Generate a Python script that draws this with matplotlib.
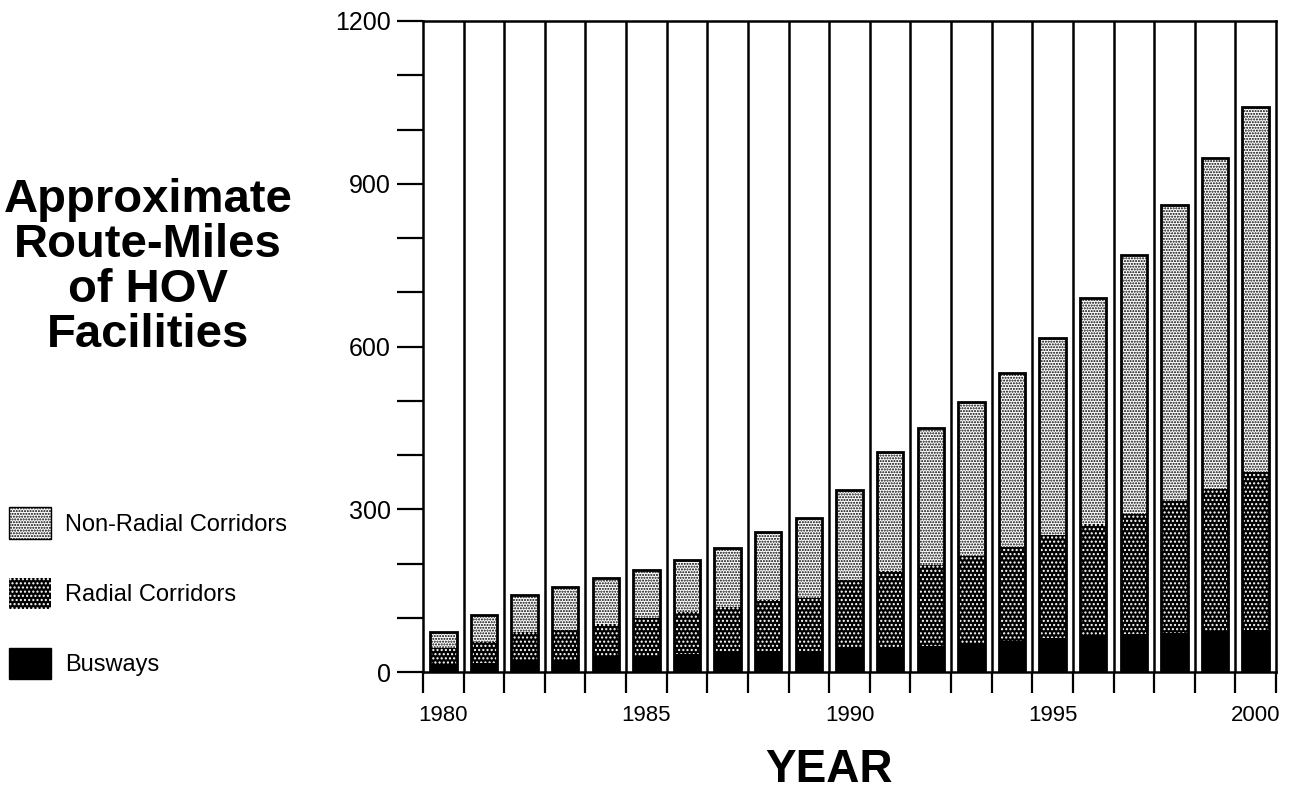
import matplotlib
matplotlib.use("Agg")
import matplotlib.pyplot as plt
import numpy as np
from matplotlib.patches import Patch

plt.rcParams['font.family'] = ['Liberation Sans', 'DejaVu Sans']
plt.rcParams['hatch.linewidth'] = 1.0

# route-miles
years = list(range(1980, 2001))
busways = [15, 17, 22, 23, 27, 29, 34, 36, 38, 38, 47, 47, 48, 53, 57, 62, 68, 70, 72, 74, 78]
radial_top = [44, 55, 73, 78, 88, 99, 110, 120, 132, 136, 169, 186, 197, 213, 230, 252, 272, 292, 315, 338, 368]
total = [74, 105, 142, 156, 173, 188, 206, 228, 258, 283, 335, 405, 449, 497, 551, 615, 690, 769, 860, 948, 1041]

busways = np.array(busways)
radial = np.array(radial_top) - busways
non_radial = np.array(total) - np.array(radial_top)
x = np.array(years)

light_hatch = '......'
dark_hatch = '....'

fig = plt.figure(figsize=(12.93, 8), dpi=100)
ax = fig.add_axes([423/1293, 1 - 672/800, (1276 - 423)/1293, (672 - 21)/800])

w = 0.65
ax.bar(x, busways, w, color='black', linewidth=0, zorder=3)
ax.bar(x, radial, w, bottom=busways, facecolor='black', edgecolor='white',
       hatch=dark_hatch, linewidth=0, zorder=3)
ax.bar(x, non_radial, w, bottom=busways + radial, facecolor='white', edgecolor='black',
       hatch=light_hatch, linewidth=0, zorder=3)
# outline round each stack
ax.bar(x, total, w, facecolor='none', edgecolor='black', linewidth=2, zorder=4)

# separators between years
for b in np.arange(1980.5, 2000.5, 1):
    ax.axvline(b, color='black', linewidth=1.8, zorder=2)

ax.set_xlim(1979.5, 2000.5)
ax.set_ylim(0, 1200)
for s in ax.spines.values():
    s.set_linewidth(1.8)

ax.set_yticks(range(0, 1201, 300))
ax.set_yticks(range(0, 1201, 100), minor=True)
ax.tick_params(axis='y', which='both', direction='out', length=19, width=1.6,
               labelsize=18, pad=4)

ax.set_xticks(range(1980, 2001, 5))
ax.set_xticks(np.arange(1979.5, 2001, 1), minor=True)
ax.tick_params(axis='x', which='major', length=0, labelsize=16, pad=24)
ax.tick_params(axis='x', which='minor', direction='out', length=15, width=1.6)

fig.text(0.1145, 0.666, "Approximate\nRoute-Miles\nof HOV\nFacilities", ha='center', va='center',
         fontsize=34, fontweight='bold', linespacing=1.03)
fig.text(829/1293, 1 - 770/800, "YEAR", ha='center', va='center', fontsize=33, fontweight='bold')

handles = [
    Patch(facecolor='white', edgecolor='black', hatch=light_hatch, linewidth=1),
    Patch(facecolor='black', edgecolor='white', hatch=dark_hatch, linewidth=0),
    Patch(facecolor='black', edgecolor='black', linewidth=1),
]
labels = ["Non-Radial Corridors", "Radial Corridors", "Busways"]
fig.legend(handles, labels, loc='upper left', bbox_to_anchor=(0.0, 1 - 498/800),
           frameon=False, fontsize=17, handlelength=1.75, handleheight=1.65,
           handletextpad=0.6, labelspacing=1.65, borderaxespad=0)

fig.savefig("out.png", dpi=100)
